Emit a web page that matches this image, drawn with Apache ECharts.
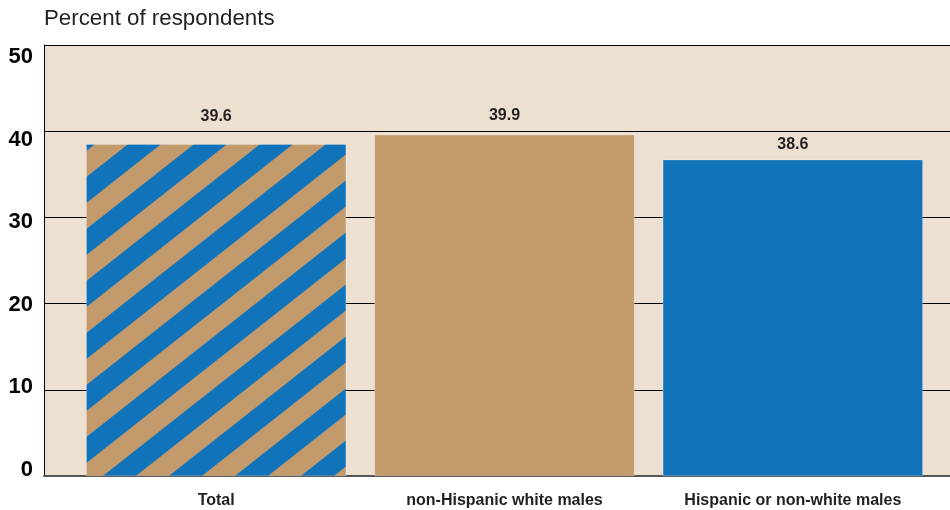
<!DOCTYPE html>
<html>
<head>
<meta charset="utf-8">
<script src="https://cdn.jsdelivr.net/npm/echarts@6/dist/echarts.min.js"></script>
<style>
html,body{margin:0;padding:0;background:#fff;}
#chart{width:950px;height:510px;}
</style>
</head>
<body>
<div id="chart"></div>
<script>
// ---- data ----
const categories = ['Total', 'non-Hispanic white males', 'Hispanic or non-white males'];
// bar heights as drawn in the picture
const barValues = [38.5, 39.6, 36.7];
// value labels as printed above the bars
const labelTexts = ['39.6', '39.9', '38.6'];
const yTicks = [0, 10, 20, 30, 40, 50];

// ---- styles ----
const TAN = '#C39A6C';
const BLUE = '#1174BB';
const BG = '#EEE0D1';
const TXT = '#231F20';
const labelDistance = [20, 11, 7];

function stripePattern() {
  const w = 66, h = 52, band = 33, phase = 47;
  const c = document.createElement('canvas');
  c.width = w; c.height = h;
  const g = c.getContext('2d');
  g.fillStyle = TAN;
  g.fillRect(0, 0, w, h);
  g.fillStyle = BLUE;
  for (let s = -3 * w + phase; s <= 2 * w; s += w) {
    g.beginPath();
    g.moveTo(s, h);
    g.lineTo(s + w, 0);
    g.lineTo(s + w + band, 0);
    g.lineTo(s + band, h);
    g.closePath();
    g.fill();
  }
  return c;
}

const chart = echarts.init(document.getElementById('chart'), null, {renderer: 'canvas'});
const colors = [{image: stripePattern(), repeat: 'repeat'}, TAN, BLUE];

const option = {
  animation: false,
  title: {
    text: 'Percent of respondents',
    left: 44, top: 8, padding: 0,
    textStyle: {fontFamily: 'Liberation Sans, Arial, sans-serif', fontSize: 22.3, fontWeight: 'normal', color: TXT}
  },
  grid: [
    {left: 44, right: 0, top: 45, bottom: 34, show: true, backgroundColor: BG, borderWidth: 0},
    {left: 72, right: 13, top: 45, bottom: 34},
    {left: 36, width: 1, top: 57, bottom: 40}
  ],
  xAxis: [
    {gridIndex: 0, type: 'value', min: 0, max: 1, axisLabel: {show: false}, axisTick: {show: false},
     splitLine: {show: false}, axisLine: {show: true, lineStyle: {color: '#555555', width: 2}}},
    {gridIndex: 1, type: 'category', data: categories, axisLine: {show: false}, axisTick: {show: false},
     axisLabel: {margin: 17, fontFamily: 'Liberation Sans, Arial, sans-serif', fontWeight: 'bold', fontSize: 16, color: TXT}},
    {gridIndex: 2, type: 'value', show: false}
  ],
  yAxis: [
    {gridIndex: 0, type: 'value', min: 0, max: 50, interval: 10, axisLabel: {show: false}, axisTick: {show: false},
     axisLine: {show: true, lineStyle: {color: '#000', width: 1}},
     splitLine: {show: true, lineStyle: {color: '#000', width: 1}}},
    {gridIndex: 1, type: 'value', min: 0, max: 50, show: false},
    {gridIndex: 2, type: 'value', min: yTicks[0], max: yTicks[yTicks.length - 1], interval: 10,
     axisLine: {show: false}, axisTick: {show: false}, splitLine: {show: false},
     axisLabel: {margin: 3, fontFamily: 'Liberation Sans, Arial, sans-serif', fontWeight: 'bold', fontSize: 22, color: '#000'}}
  ],
  series: [{
    type: 'bar',
    xAxisIndex: 1, yAxisIndex: 1,
    barWidth: 260,
    data: barValues.map((v, i) => ({
      value: v,
      itemStyle: {color: colors[i], borderColor: 'rgba(255,255,255,0.5)', borderWidth: 0.5},
      label: {distance: labelDistance[i]}
    })),
    label: {
      show: true, position: 'top',
      formatter: p => labelTexts[p.dataIndex],
      fontFamily: 'Liberation Sans, Arial, sans-serif', fontWeight: 'bold', fontSize: 16, color: TXT
    }
  }]
};
chart.setOption(option);
</script>
</body>
</html>
